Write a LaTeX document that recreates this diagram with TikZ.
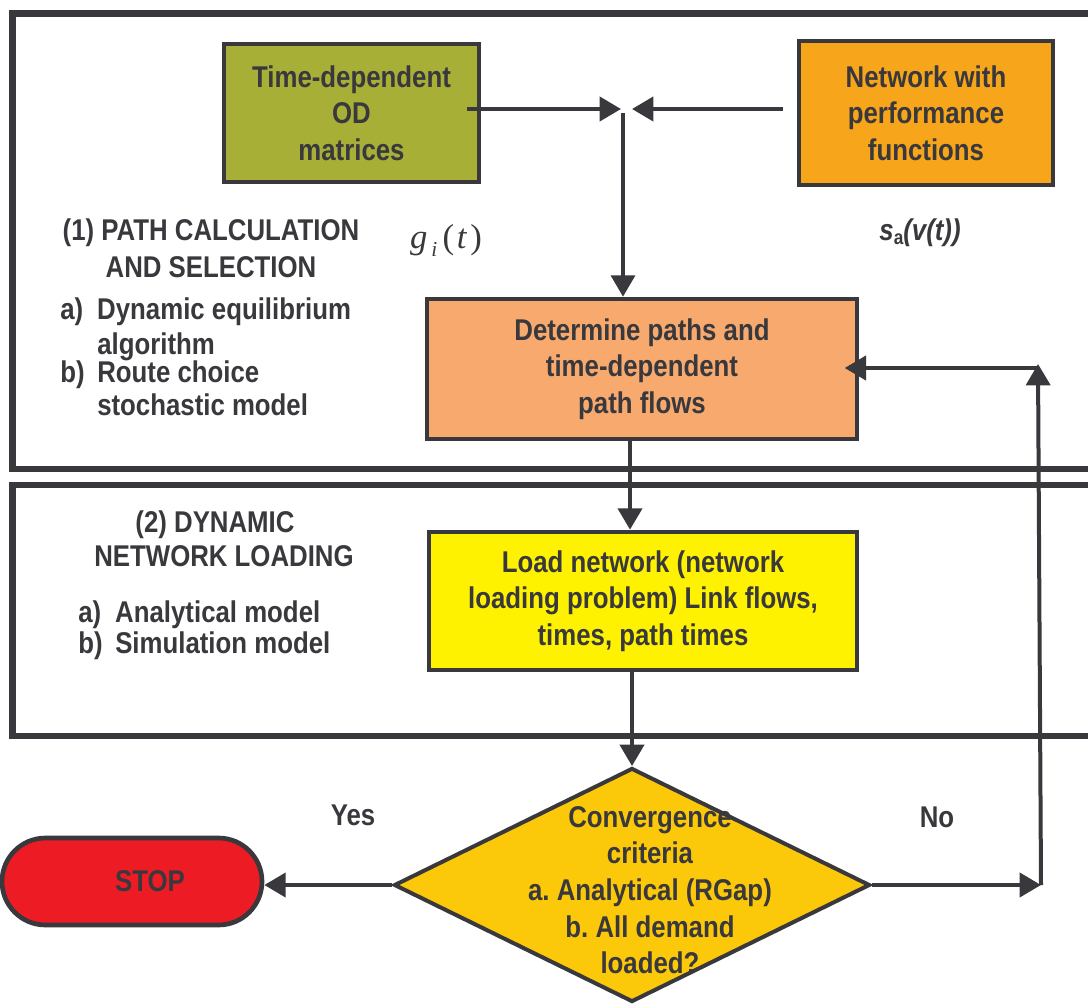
\documentclass[tikz,border=0pt]{standalone}
\usepackage{fontspec}
\setmainfont{Liberation Sans}[FakeStretch=0.86]
\newfontfamily\seriffont{Liberation Serif}
\usetikzlibrary{arrows.meta,shapes.geometric,shapes.misc,calc}
\definecolor{ink}{HTML}{38383D}
\definecolor{odgreen}{HTML}{A8AF37}
\definecolor{netorange}{HTML}{F7A51B}
\definecolor{peach}{HTML}{F8AA6E}
\definecolor{loadyellow}{HTML}{FFF200}
\definecolor{diayellow}{HTML}{FCC80A}
\definecolor{stopred}{HTML}{ED1C24}
\frenchspacing
\begin{document}
\begin{tikzpicture}[x=0.75pt,y=-0.75pt,
  box/.style={draw=ink, line width=3.5pt, text=ink, font=\bfseries\fontsize{22.5}{27.5}\selectfont, align=center, inner sep=0pt},
  lbl/.style={text=ink, font=\bfseries\fontsize{22.5}{27.5}\selectfont, inner sep=0pt},
  arr/.style={draw=ink, line width=3pt, -{Triangle[length=16pt,width=18pt]}},
  frame/.style={draw=ink, line width=5pt}]
\useasboundingbox (0,0) rectangle (1088,1003);

% frames
\draw[frame] (1100,13.5) -- (12.5,13.5) -- (12.5,469) -- (1100,469);
\draw[frame] (1100,485) -- (12.5,485) -- (12.5,736) -- (1100,736);

% boxes
\node[box, fill=odgreen, minimum width=191.25pt, minimum height=103.5pt] (od) at (351.5,113) {Time-dependent\\OD\\matrices};
\node[box, fill=netorange, minimum width=190.5pt, minimum height=108pt] (net) at (926,113) {Network with\\performance\\functions};
\node[box, fill=peach, minimum width=322.5pt, minimum height=105pt] (paths) at (642,369) {Determine paths and\\time-dependent\\path flows};
\node[box, fill=loadyellow, minimum width=321pt, minimum height=103.5pt] (load) at (643,601) {Load network (network\\loading problem) Link flows,\\times, path times};
\node[shape=diamond, draw=ink, fill=diayellow, line width=3pt, minimum width=357pt, minimum height=175.5pt, inner sep=0pt] (dia) at (632,885) {};
\node[lbl, align=center] (diatext) at (650,890) {Convergence\\criteria\\a. Analytical (RGap)\\b. All demand\\loaded?};
\node[shape=rounded rectangle, draw=ink, fill=stopred, line width=3.5pt, minimum width=195pt, minimum height=65.25pt, inner sep=0pt] (stop) at (132,881.5) {};
\node[lbl] (stoptext) at (150,881) {STOP};

% side texts
\node[lbl, align=center] (sec1) at (211,248) {(1) PATH CALCULATION\\AND SELECTION};
\node[lbl, anchor=west] (s1a) at (60,312) {\makebox[27.75pt][l]{a)}Dynamic equilibrium};
\node[lbl, anchor=west] (s1a2) at (97,347) {algorithm};
\node[lbl, anchor=west] (s1b) at (60,375) {\makebox[27.75pt][l]{b)}Route choice};
\node[lbl, anchor=west] (s1b2) at (97,405) {stochastic model};
\node[lbl] (sec2a) at (215,525) {(2) DYNAMIC};
\node[lbl] (sec2b) at (224,556) {NETWORK LOADING};
\node[lbl, anchor=west] (s2a) at (78,615) {\makebox[27.75pt][l]{a)}Analytical model};
\node[lbl, anchor=west] (s2b) at (78,646) {\makebox[27.75pt][l]{b)}Simulation model};
\node[lbl] (yes) at (353,815) {Yes};
\node[lbl] (no) at (937,817) {No};
\node[text=ink, inner sep=0pt, font=\seriffont\fontsize{26}{30}\selectfont] (gi) at (446,240) {\itshape g\kern3pt\raisebox{-6pt}{\fontsize{16}{16}\selectfont i}\kern4pt\upshape(\kern2pt\itshape t\kern3pt\upshape)};
\node[lbl] (sa) at (920,233) {\itshape s\upshape\raisebox{-3pt}{\fontsize{15}{15}\selectfont a}\itshape(v(t))};

% junction coordinates
\coordinate (jl) at (621,109);
\coordinate (jr) at (632,109);
\coordinate (jv) at (623,113);
\coordinate (xa) at (630,0);
\coordinate (c1) at (1041,885);
\coordinate (c2) at (1038,364);
\coordinate (c3) at (1038,368);

% connectors
\draw[arr] ([xshift=-10.5pt]od.east |- jl) -- (jl);
\draw[arr] ([xshift=-10.5pt]net.west |- jr) -- (jr);
\draw[arr, line width=2.5pt] (jv) -- (jv |- paths.north);
\draw[arr] (paths.south -| xa) -- (load.north -| xa);
\draw[arr] (load.south -| dia.north) -- (dia.north);
\draw[arr] (dia.west) -- (dia.west -| stop.east);
\draw[arr] (dia.east) -- (c1);
\draw[arr] (c1) -- (c2);
\draw[arr] (c3) -- ([xshift=-11pt]c3 -| paths.east);
\end{tikzpicture}
\end{document}
